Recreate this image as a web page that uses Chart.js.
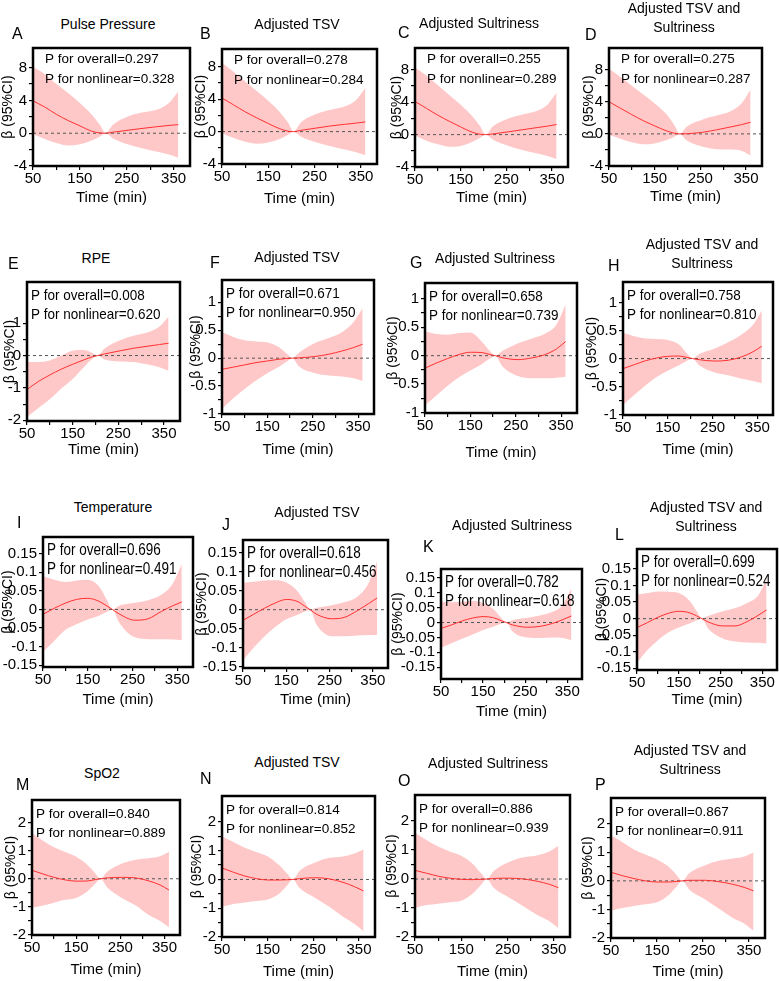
<!DOCTYPE html>
<html>
<head>
<meta charset="utf-8">
<script src="https://cdn.jsdelivr.net/npm/chart.js@4.4.1/dist/chart.umd.min.js"></script>
<style>
  body { margin: 0; background: #fff; }
  #fig { position: relative; width: 779px; height: 981px; overflow: hidden; font-family: "Liberation Sans", Arial, sans-serif; color: #000; }
  #fig canvas { position: absolute; }
  .ttl { position: absolute; font-size: 14px; text-align: center; white-space: pre; transform: translateX(-50%); }
  .let { position: absolute; font-size: 16px; line-height: 18px; }
</style>
</head>
<body>
<div id="fig"></div>
<script>
// time points (min) shared by every panel
const timeMin = [50, 75, 100, 125, 150, 175, 193, 205, 220, 255, 285, 315, 340, 360];

// row 1: pulse pressure
const fitA = [3.95, 3.2, 2.3, 1.55, 0.9, 0.25, 0.03, 0, 0.12, 0.38, 0.6, 0.8, 0.95, 1.05];
const uppA = [8.1, 7.2, 6.0, 4.9, 3.7, 2.3, 1.0, 0, 1.0, 2.1, 2.55, 2.9, 3.7, 5.1];
const lowA = [-0.1, -0.7, -1.2, -1.5, -1.35, -0.9, -0.4, 0, -0.6, -1.4, -1.85, -2.25, -2.6, -3.0];
const fitB = [4.15, 3.3, 2.45, 1.7, 1.0, 0.35, 0.05, 0, 0.15, 0.45, 0.7, 0.9, 1.05, 1.2];
const uppB = [8.5, 7.4, 6.2, 5.0, 3.8, 2.4, 1.1, 0, 1.1, 2.2, 2.7, 3.1, 3.9, 5.4];
const lowB = [-0.2, -0.8, -1.25, -1.5, -1.35, -0.9, -0.4, 0, -0.6, -1.35, -1.8, -2.2, -2.55, -2.9];
const fitC = [4.1, 3.25, 2.4, 1.65, 0.95, 0.3, 0.04, 0, 0.08, 0.35, 0.6, 0.85, 1.05, 1.25];
const uppC = [8.3, 7.3, 6.1, 4.9, 3.7, 2.3, 1.0, 0, 1.0, 2.0, 2.5, 2.9, 3.7, 5.2];
const lowC = [-0.1, -0.75, -1.2, -1.5, -1.4, -0.9, -0.4, 0, -0.6, -1.4, -1.9, -2.3, -2.65, -3.0];
const fitD = [4.0, 3.2, 2.4, 1.65, 1.0, 0.4, 0.08, 0, 0.02, 0.2, 0.5, 0.85, 1.15, 1.45];
const uppD = [8.1, 7.1, 6.0, 4.9, 3.8, 2.5, 1.1, 0, 0.9, 1.8, 2.3, 2.8, 3.8, 5.5];
const lowD = [-0.1, -0.6, -1.05, -1.3, -1.2, -0.8, -0.35, 0, -0.8, -1.6, -1.9, -1.95, -2.1, -2.7];

// row 2: RPE
const fitE = [-1.05, -0.8, -0.6, -0.42, -0.27, -0.13, -0.04, 0, 0.05, 0.15, 0.23, 0.29, 0.34, 0.38];
const uppE = [-0.2, -0.2, -0.15, 0.0, 0.15, 0.17, 0.08, 0, 0.22, 0.48, 0.62, 0.72, 0.9, 1.2];
const lowE = [-1.9, -1.62, -1.35, -1.02, -0.72, -0.35, -0.1, 0, -0.12, -0.18, -0.2, -0.28, -0.36, -0.47];
const fitF = [-0.2, -0.16, -0.12, -0.08, -0.05, -0.02, -0.005, 0, 0.005, 0.03, 0.07, 0.13, 0.19, 0.25];
const uppF = [0.47, 0.38, 0.32, 0.3, 0.28, 0.2, 0.08, 0, 0.1, 0.27, 0.36, 0.47, 0.65, 0.9];
const lowF = [-0.91, -0.72, -0.55, -0.4, -0.27, -0.16, -0.06, 0, -0.15, -0.27, -0.31, -0.33, -0.36, -0.41];
const fitG = [-0.22, -0.13, -0.05, 0.02, 0.06, 0.055, 0.02, 0, -0.035, -0.07, -0.04, 0.02, 0.12, 0.25];
const uppG = [0.43, 0.38, 0.37, 0.4, 0.41, 0.25, 0.08, 0, 0.08, 0.22, 0.3, 0.39, 0.55, 0.9];
const lowG = [-0.88, -0.7, -0.53, -0.38, -0.26, -0.15, -0.05, 0, -0.18, -0.36, -0.4, -0.4, -0.39, -0.37];
const fitH = [-0.18, -0.11, -0.04, 0.01, 0.04, 0.045, 0.02, 0, -0.02, -0.045, -0.03, 0.03, 0.12, 0.22];
const uppH = [0.46, 0.4, 0.36, 0.35, 0.33, 0.25, 0.09, 0, 0.08, 0.18, 0.29, 0.43, 0.6, 0.86];
const lowH = [-0.83, -0.65, -0.48, -0.33, -0.22, -0.12, -0.04, 0, -0.12, -0.25, -0.3, -0.36, -0.4, -0.44];

// row 3: temperature
const fitI = [-0.013, 0.003, 0.017, 0.027, 0.03, 0.022, 0.009, 0, -0.012, -0.029, -0.025, -0.005, 0.01, 0.02];
const uppI = [0.089, 0.08, 0.074, 0.078, 0.08, 0.062, 0.025, 0, 0.01, 0.018, 0.025, 0.04, 0.07, 0.122];
const lowI = [-0.114, -0.085, -0.055, -0.04, -0.027, -0.017, -0.006, 0, -0.035, -0.075, -0.08, -0.08, -0.081, -0.083];
const fitJ = [-0.028, -0.012, 0.004, 0.018, 0.027, 0.022, 0.009, 0, -0.012, -0.024, -0.02, -0.002, 0.016, 0.031];
const uppJ = [0.071, 0.074, 0.077, 0.078, 0.072, 0.05, 0.02, 0, 0.005, 0.012, 0.02, 0.035, 0.07, 0.128];
const lowJ = [-0.134, -0.1, -0.07, -0.045, -0.025, -0.014, -0.005, 0, -0.04, -0.07, -0.07, -0.068, -0.067, -0.067];
const fitK = [-0.02, -0.008, 0.005, 0.015, 0.02, 0.016, 0.006, 0, -0.008, -0.016, -0.013, -0.003, 0.01, 0.022];
const uppK = [0.07, 0.068, 0.07, 0.072, 0.066, 0.045, 0.016, 0, 0.008, 0.016, 0.024, 0.036, 0.06, 0.115];
const lowK = [-0.085, -0.07, -0.055, -0.04, -0.025, -0.013, -0.004, 0, -0.03, -0.05, -0.052, -0.05, -0.052, -0.06];
const fitL = [-0.027, -0.012, 0.004, 0.016, 0.022, 0.018, 0.008, 0, -0.01, -0.022, -0.022, -0.008, 0.01, 0.026];
const uppL = [0.072, 0.077, 0.082, 0.081, 0.077, 0.055, 0.022, 0, 0.008, 0.022, 0.032, 0.048, 0.07, 0.12];
const lowL = [-0.133, -0.095, -0.065, -0.042, -0.027, -0.015, -0.005, 0, -0.03, -0.06, -0.069, -0.072, -0.073, -0.075];

// row 4: SpO2
const fitM = [0.3, 0.17, 0.05, -0.04, -0.085, -0.08, -0.03, 0, 0.03, 0.05, 0.03, -0.08, -0.22, -0.4];
const uppM = [1.62, 1.35, 1.12, 0.95, 0.78, 0.5, 0.2, 0, 0.25, 0.55, 0.68, 0.73, 0.8, 0.95];
const lowM = [-1.03, -0.95, -0.85, -0.75, -0.68, -0.45, -0.18, 0, -0.3, -0.7, -0.95, -1.3, -1.5, -1.72];
const fitN = [0.4, 0.25, 0.12, 0.03, -0.02, -0.02, -0.01, 0, 0.03, 0.06, 0.02, -0.1, -0.25, -0.4];
const uppN = [1.5, 1.3, 1.1, 0.95, 0.8, 0.5, 0.2, 0, 0.3, 0.6, 0.75, 0.8, 0.9, 1.05];
const lowN = [-0.95, -0.85, -0.8, -0.75, -0.7, -0.5, -0.2, 0, -0.3, -0.65, -0.95, -1.3, -1.55, -1.8];
const fitO = [0.3, 0.2, 0.1, 0.03, -0.01, -0.02, -0.01, 0, 0.02, 0.03, 0.0, -0.08, -0.18, -0.3];
const uppO = [1.6, 1.35, 1.12, 0.95, 0.8, 0.52, 0.2, 0, 0.28, 0.6, 0.75, 0.82, 0.95, 1.15];
const lowO = [-1.0, -0.9, -0.85, -0.8, -0.75, -0.5, -0.2, 0, -0.3, -0.65, -0.95, -1.25, -1.45, -1.7];
const fitP = [0.3, 0.18, 0.08, 0.0, -0.04, -0.04, -0.02, 0, 0.02, 0.02, -0.03, -0.12, -0.23, -0.35];
const uppP = [1.6, 1.35, 1.1, 0.92, 0.75, 0.5, 0.2, 0, 0.27, 0.55, 0.7, 0.78, 0.85, 1.0];
const lowP = [-1.05, -0.95, -0.88, -0.82, -0.75, -0.5, -0.2, 0, -0.3, -0.65, -0.98, -1.3, -1.5, -1.75];

const panelTitles = ['Pulse Pressure', 'Adjusted TSV', 'Adjusted Sultriness', 'Adjusted TSV and\nSultriness',
  'RPE', 'Adjusted TSV', 'Adjusted Sultriness', 'Adjusted TSV and\nSultriness',
  'Temperature', 'Adjusted TSV', 'Adjusted Sultriness', 'Adjusted TSV and\nSultriness',
  'SpO2', 'Adjusted TSV', 'Adjusted Sultriness', 'Adjusted TSV and\nSultriness'];
const panelLetters = ['A', 'B', 'C', 'D', 'E', 'F', 'G', 'H', 'I', 'J', 'K', 'L', 'M', 'N', 'O', 'P'];
const pOverall = ['0.297', '0.278', '0.255', '0.275', '0.008', '0.671', '0.658', '0.758',
  '0.696', '0.618', '0.782', '0.699', '0.840', '0.814', '0.886', '0.867'];
const pNonlinear = ['0.328', '0.284', '0.289', '0.287', '0.620', '0.950', '0.739', '0.810',
  '0.491', '0.456', '0.618', '0.524', '0.889', '0.852', '0.939', '0.911'];

// tick values and labels
const xTicks = [50, 100, 150, 200, 250, 300, 350];
const xLabels = ['50', '', '150', '', '250', '', '350'];
const yTicksPP = [-4, -2, 0, 2, 4, 6, 8];
const yLabelsPP = ['-4', '', '0', '', '4', '', '8'];
const yTicksRPE = [-2, -1.5, -1, -0.5, 0, 0.5, 1];
const yLabelsRPE = ['-2', '', '-1', '', '0', '', '1'];
const yTicksHalf = [-1, -0.75, -0.5, -0.25, 0, 0.25, 0.5, 0.75, 1];
const yLabelsHalf = ['-1', '', '-0.5', '', '0', '', '0.5', '', '1'];
const yTicksTemp = [-0.15, -0.1, -0.05, 0, 0.05, 0.1, 0.15];
const yLabelsTemp = ['-0.15', '-0.1', '-0.05', '0', '0.05', '0.1', '0.15'];
const yTicksSpO2 = [-2, -1.5, -1, -0.5, 0, 0.5, 1, 1.5, 2];
const yLabelsSpO2 = ['-2', '', '-1', '', '0', '', '1', '', '2'];

const yMin = [-4, -4, -4, -4, -2.02, -1.0, -1.01, -1.01, -0.155, -0.154, -0.19, -0.155, -2, -2, -2, -2];
const yMax = [10.4, 10.2, 10.7, 10.7, 2.27, 1.4, 1.28, 1.37, 0.195, 0.184, 0.18, 0.21, 2.8, 2.9, 2.9, 2.9];
const xMax = 385;

const series = [
  [fitA, uppA, lowA], [fitB, uppB, lowB], [fitC, uppC, lowC], [fitD, uppD, lowD],
  [fitE, uppE, lowE], [fitF, uppF, lowF], [fitG, uppG, lowG], [fitH, uppH, lowH],
  [fitI, uppI, lowI], [fitJ, uppJ, lowJ], [fitK, uppK, lowK], [fitL, uppL, lowL],
  [fitM, uppM, lowM], [fitN, uppN, lowN], [fitO, uppO, lowO], [fitP, uppP, lowP]
];
const yTickSets = [
  [yTicksPP, yLabelsPP], [yTicksPP, yLabelsPP], [yTicksPP, yLabelsPP], [yTicksPP, yLabelsPP],
  [yTicksRPE, yLabelsRPE], [yTicksHalf, yLabelsHalf], [yTicksHalf, yLabelsHalf], [yTicksHalf, yLabelsHalf],
  [yTicksTemp, yLabelsTemp], [yTicksTemp, yLabelsTemp], [yTicksTemp, yLabelsTemp], [yTicksTemp, yLabelsTemp],
  [yTicksSpO2, yLabelsSpO2], [yTicksSpO2, yLabelsSpO2], [yTicksSpO2, yLabelsSpO2], [yTicksSpO2, yLabelsSpO2]
];

// layout: plot box [l,t,r,b], canvas left, x title centre y, panel title, letter
const layout = [
  { box: [33, 43, 190, 166], cl: 0, xt: 198, tt: [108, 24], lt: [17, 34] },
  { box: [222, 44, 377, 164], cl: 193, xt: 199, tt: [297, 24], lt: [205, 34] },
  { box: [415, 43, 568, 167], cl: 389, xt: 198, tt: [479, 23], lt: [403, 33] },
  { box: [609, 43, 762, 166], cl: 581, xt: 197, tt: [684, 8], lt: [590, 35] },
  { box: [27, 277, 180, 421], cl: 2, xt: 450, tt: [96, 258], lt: [13, 264] },
  { box: [222, 275, 374, 414], cl: 188, xt: 450, tt: [297, 257], lt: [215, 263] },
  { box: [425, 278, 577, 413], cl: 385, xt: 453, tt: [495, 258], lt: [415, 263] },
  { box: [623, 277, 773, 415], cl: 584, xt: 450, tt: [702, 244], lt: [613, 266] },
  { box: [43, 532, 193, 667], cl: 0, xt: 700, tt: [113, 507], lt: [22, 523] },
  { box: [243, 535, 388, 668], cl: 194, xt: 700, tt: [317, 512], lt: [227, 525] },
  { box: [441, 564, 582, 679], cl: 390, xt: 712, tt: [512, 525], lt: [428, 547] },
  { box: [637, 544, 777, 670], cl: 594, xt: 700, tt: [706, 507], lt: [620, 535] },
  { box: [32, 795, 180, 935], cl: 3, xt: 970, tt: [102, 773], lt: [21, 785] },
  { box: [222, 791, 375, 937], cl: 189, xt: 972, tt: [297, 762], lt: [205, 779] },
  { box: [415, 790, 570, 937], cl: 384, xt: 972, tt: [488, 763], lt: [403, 781] },
  { box: [611, 793, 765, 938], cl: 580, xt: 972, tt: [690, 750], lt: [600, 785] }
];

const FONT = '"Liberation Sans", Arial, sans-serif';
Chart.defaults.font.family = FONT;
Chart.defaults.color = '#000';

// frame, dashed zero line and P-value text
const panelDecor = {
  id: 'panelDecor',
  beforeDatasetDraw(chart, args) {
    if (args.index !== 0) return;
    const { ctx, chartArea: a, scales: { y } } = chart;
    const y0 = y.getPixelForValue(0);
    ctx.save();
    ctx.strokeStyle = '#555';
    ctx.lineWidth = 1;
    ctx.setLineDash([3, 3]);
    ctx.beginPath();
    ctx.moveTo(a.left, y0);
    ctx.lineTo(a.right, y0);
    ctx.stroke();
    ctx.restore();
  },
  afterDraw(chart, args, opts) {
    const { ctx, chartArea: a } = chart;
    ctx.save();
    ctx.strokeStyle = '#000';
    ctx.lineWidth = 2.5;
    ctx.strokeRect(a.left, a.top, a.right - a.left, a.bottom - a.top);
    ctx.fillStyle = '#000';
    ctx.font = '13.5px ' + FONT;
    opts.lines.forEach((s, i) => {
      ctx.save();
      ctx.translate(a.left + opts.dx, a.top + opts.dy[i]);
      ctx.scale(1, opts.sy);
      ctx.fillText(s, 0, 0);
      ctx.restore();
    });
    ctx.restore();
  }
};

const fig = document.getElementById('fig');
const textStretch = [1, 1.12, 1.25, 1];

layout.forEach((p, i) => {
  const [l, t, r, b] = p.box;
  const row = Math.floor(i / 4);
  const top = t - 6;
  const width = r + 4 - p.cl;
  const height = p.xt + 9 - top;
  const yw = l - p.cl;
  const xh = p.xt + 9 - b;

  const cv = document.createElement('canvas');
  cv.width = width;
  cv.height = height;
  cv.style.left = p.cl + 'px';
  cv.style.top = top + 'px';
  fig.appendChild(cv);

  const ttl = document.createElement('div');
  ttl.className = 'ttl';
  ttl.textContent = panelTitles[i];
  ttl.style.left = p.tt[0] + 'px';
  ttl.style.top = (p.tt[1] - 9) + 'px';
  ttl.style.lineHeight = '19px';
  fig.appendChild(ttl);

  const let_ = document.createElement('div');
  let_.className = 'let';
  let_.textContent = panelLetters[i];
  let_.style.left = (p.lt[0] - 5) + 'px';
  let_.style.top = (p.lt[1] - 9) + 'px';
  fig.appendChild(let_);

  const [fit, upp, low] = series[i];
  const [yTicks, yLabels] = yTickSets[i];
  const pts = arr => arr.map((v, k) => ({ x: timeMin[k], y: v }));

  new Chart(cv, {
    type: 'line',
    data: {
      datasets: [
        { data: pts(fit), borderColor: '#ff3030', borderWidth: 1, pointRadius: 0, fill: false, order: 0, cubicInterpolationMode: 'monotone' },
        { data: pts(upp), borderColor: 'transparent', borderWidth: 0, pointRadius: 0, fill: '+1', backgroundColor: '#ffc8c8', order: 1, cubicInterpolationMode: 'monotone' },
        { data: pts(low), borderColor: 'transparent', borderWidth: 0, pointRadius: 0, fill: false, order: 2, cubicInterpolationMode: 'monotone' }
      ]
    },
    options: {
      responsive: false,
      animation: false,
      devicePixelRatio: 1,
      layout: { padding: { top: 6, right: 4, left: 0, bottom: 0 } },
      plugins: {
        legend: { display: false },
        tooltip: { enabled: false },
        panelDecor: {
          lines: ['P for overall=' + pOverall[i], 'P for nonlinear=' + pNonlinear[i]],
          dx: row === 0 ? 12 : 4,
          dy: row === 0 ? [15, 35] : [18, 37],
          sy: textStretch[row]
        }
      },
      scales: {
        x: {
          type: 'linear',
          min: 50,
          max: xMax,
          afterBuildTicks: s => { s.ticks = xTicks.map(v => ({ value: v })); },
          afterFit: s => { s.height = xh; },
          ticks: { callback: (v, k) => xLabels[k], autoSkip: false, maxRotation: 0, padding: 0, color: '#000', font: { size: 15 } },
          grid: { drawOnChartArea: false, drawTicks: true, tickLength: 4, color: '#000', lineWidth: 1.2 },
          border: { display: false },
          title: { display: true, text: 'Time (min)', color: '#000', font: { size: 15 }, padding: 0 }
        },
        y: {
          type: 'linear',
          min: yMin[i],
          max: yMax[i],
          afterBuildTicks: s => { s.ticks = yTicks.map(v => ({ value: v })); },
          afterFit: s => { s.width = yw; },
          ticks: { callback: (v, k) => yLabels[k], autoSkip: false, padding: 2, color: '#000', font: { size: 15 } },
          grid: { drawOnChartArea: false, drawTicks: true, tickLength: 4, color: '#000', lineWidth: 1.2 },
          border: { display: false },
          title: { display: true, text: 'β (95%CI)', color: '#000', font: { size: 14 }, padding: 0 }
        }
      }
    },
    plugins: [panelDecor]
  });
});
</script>
</body>
</html>
